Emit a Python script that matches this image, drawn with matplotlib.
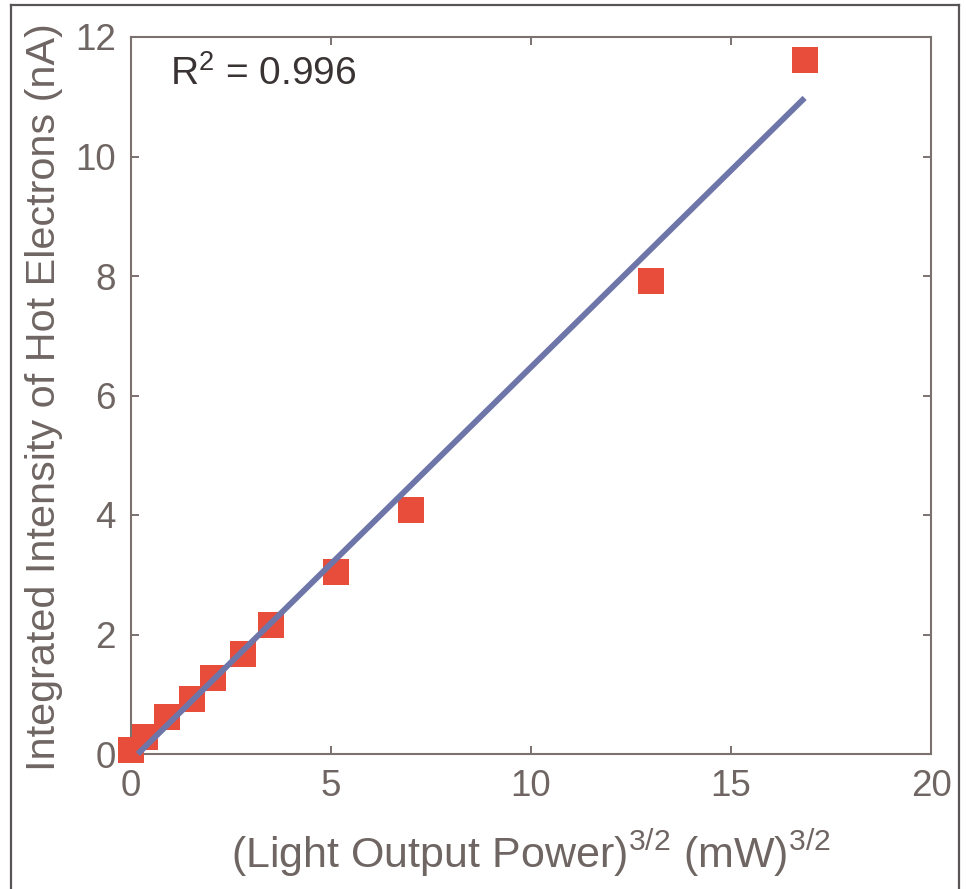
import matplotlib
matplotlib.use("Agg")
import matplotlib.pyplot as plt
from matplotlib.lines import Line2D

plt.rcParams['font.family'] = ['Liberation Sans', 'DejaVu Sans']
plt.rcParams['mathtext.default'] = 'regular'

# Data
power_x = [0.005, 0.34, 0.90, 1.52, 2.06, 2.81, 3.50, 5.12, 7.00, 13.00, 16.84]
intensity_y = [0.075, 0.29, 0.62, 0.92, 1.27, 1.67, 2.16, 3.05, 4.08, 7.92, 11.62]
fit_x = [0.17, 16.84]
fit_y = [0.0, 10.98]
x_ticks = [0, 5, 10, 15, 20]
y_ticks = [0, 2, 4, 6, 8, 10, 12]
r2_text = 'R$^{2}$ = 0.996'

text_col = '#6F6663'
spine_col = '#7B716F'
red = '#E84C3A'
blue = '#6E75A8'

fig = plt.figure(figsize=(9.66, 8.89), dpi=100)
W, H = 966, 889
ax = fig.add_axes([131 / W, 1 - 754 / H, (931 - 131) / W, (754 - 37) / H])

ax.plot(fit_x, fit_y, color=blue, lw=4.2, solid_capstyle='butt', zorder=3,
        clip_on=False)
ax.plot(power_x, intensity_y, 's', color=red, ms=18.7, mew=0, zorder=2,
        clip_on=False)

ax.set_xlim(0, 20)
ax.set_ylim(0, 12)
ax.set_xticks(x_ticks)
ax.set_yticks(y_ticks)
ax.tick_params(direction='in', length=6, width=1.4, colors=spine_col,
               labelcolor=text_col, labelsize=26.5, pad=11,
               top=True, right=True)
for s in ax.spines.values():
    s.set_color(spine_col)
    s.set_linewidth(1.5)
    s.set_zorder(1)

fig.text(170 / W, 1 - 85 / H, r2_text, fontsize=28, color='#3a3333',
         ha='left', va='baseline')

fig.text(531 / W, 1 - 868 / H,
         '(Light Output Power)$^{3/2}$ (mW)$^{3/2}$',
         fontsize=31, color=text_col, ha='center', va='baseline')
fig.text(55 / W, 1 - 397 / H,
         'Integrated Intensity of Hot Electrons (nA)',
         fontsize=29.8, color=text_col, ha='center', va='baseline',
         rotation=90, rotation_mode='anchor')

# outer frame (left, top, right)
frame_kw = dict(color='#5a5555', lw=1.6, transform=fig.transFigure)
fig.add_artist(Line2D([11 / W, 11 / W], [0, 1 - 5 / H], **frame_kw))
fig.add_artist(Line2D([11 / W, 959 / W], [1 - 5 / H, 1 - 5 / H], **frame_kw))
fig.add_artist(Line2D([959 / W, 959 / W], [0, 1 - 5 / H], **frame_kw))

fig.savefig('out.png', dpi=100)
